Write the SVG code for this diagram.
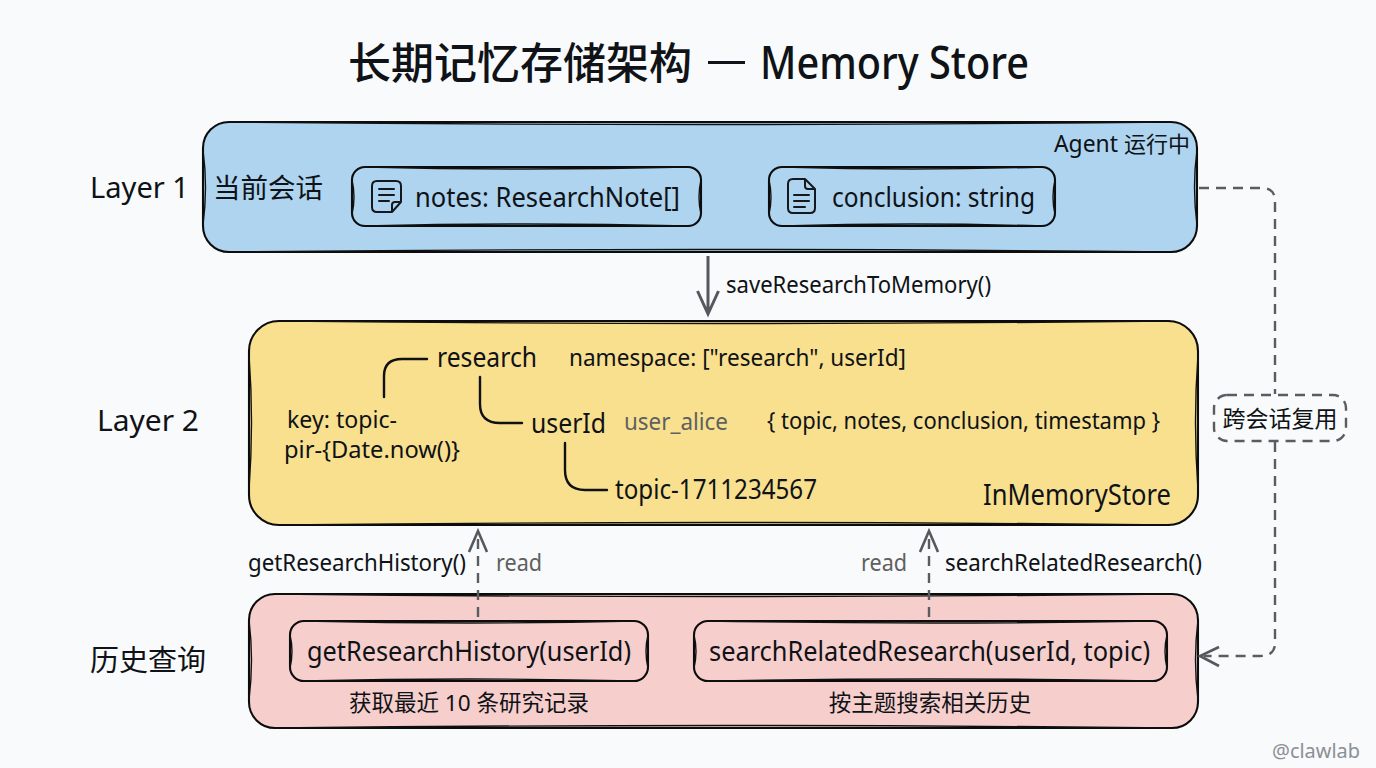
<svg xmlns="http://www.w3.org/2000/svg" width="1376" height="768" viewBox="0 0 1376 768">
<style>
text{font-family:"Noto Sans","Noto Sans CJK SC",sans-serif;fill:#0f1216}
.o{fill:none;stroke:#0c0c0c;stroke-width:2.1}
.o2{fill:none;stroke:#111;stroke-width:1.4}
.c{fill:none;stroke:#55585c;stroke-width:3}
.d{fill:none;stroke:#5a5d60;stroke-width:2.4;stroke-dasharray:10 7}
.t{fill:none;stroke:#111;stroke-width:2.4;stroke-linecap:round}
.ic{fill:none;stroke:#15181c;stroke-width:2;stroke-linejoin:round;stroke-linecap:round}
.s21{font-size:23px}.s26{font-size:28.500px}.s25{font-size:28px}.g{fill:#5f6060}
</style>
<rect width="1376" height="768" fill="#f8fafb"/>
<text y="79" font-size="43" font-weight="500"><tspan x="348">长期记忆存储架构</tspan></text>
<path d="M708 62.500H745" stroke="#0f1216" stroke-width="3" fill="none"/>
<text x="760" y="79" font-size="46" font-weight="500" textLength="269" lengthAdjust="spacingAndGlyphs">Memory Store</text>
<g id="layer1">
<rect x="203" y="122" width="994" height="130" rx="26" fill="#aed4ef"/>
<rect class="o" x="203" y="122" width="994" height="130" rx="26"/>
<path class="o2" d="M230 122Q700 127 1170 122M230 252Q700 247 1170 252M203 150Q208 187 203 225M1197 150Q1192 187 1197 225"/>
<text x="90" y="198" class="s26" textLength="99" lengthAdjust="spacingAndGlyphs">Layer 1</text>
<text x="213" y="198" font-size="27.500">当前会话</text>
<text x="1054" y="152" class="s21" textLength="64" lengthAdjust="spacingAndGlyphs">Agent</text>
<text x="1124" y="152" font-size="22">运行中</text>
</g>
<g id="notes">
<rect class="o" x="352" y="167" width="349" height="59" rx="13"/>
<path class="o2" d="M365 167Q526 171 688 167M365 226Q526 222 688 226M352 180Q356 197 352 214M701 180Q697 197 701 214"/>
<path class="ic" d="M377 181H396Q401 181 401 186V202L392 212H377Q372 212 372 207V186Q372 181 377 181ZM379 189H394M379 195H394M379 201H389M392 212V205Q392 202 395 202H401"/>
<text x="415" y="207" class="s25" textLength="265" lengthAdjust="spacingAndGlyphs">notes: ResearchNote[]</text>
</g>
<g id="conclusion">
<rect class="o" x="769" y="167" width="286" height="59" rx="13"/>
<path class="o2" d="M782 167Q912 171 1042 167M782 226Q912 222 1042 226M769 180Q773 197 769 214M1055 180Q1051 197 1055 214"/>
<path class="ic" d="M793 179H805L815 189V208Q815 213 810 213H793Q788 213 788 208V184Q788 179 793 179ZM805 179V186Q805 189 808 189H815M794 195H809M794 201H809M794 207H805"/>
<text x="832" y="207" class="s25" textLength="203" lengthAdjust="spacingAndGlyphs">conclusion: string</text>
</g>
<g id="layer2">
<rect x="249" y="321" width="949" height="204" rx="30" fill="#f8e08e"/>
<rect class="o" x="249" y="321" width="949" height="204" rx="30"/>
<path class="o2" d="M280 321Q725 326 1170 321M280 525Q725 520 1170 525M249 355Q254 422 249 490M1198 355Q1193 422 1198 490"/>
<text x="97" y="431" class="s26" textLength="102" lengthAdjust="spacingAndGlyphs">Layer 2</text>
<path class="t" d="M384 397V376Q384 359 402 359H427M480 377V404Q480 423 500 423H522M565 443V470Q565 490 585 490H607"/>
<text x="437" y="367" class="s25" textLength="100" lengthAdjust="spacingAndGlyphs">research</text>
<text x="569" y="366" class="s21" textLength="337" lengthAdjust="spacingAndGlyphs">namespace: ["research", userId]</text>
<text x="287" y="428" class="s21" textLength="110" lengthAdjust="spacingAndGlyphs">key: topic-</text>
<text x="284" y="458" class="s21" textLength="176" lengthAdjust="spacingAndGlyphs">pir-{Date.now()}</text>
<text x="531" y="433" class="s25" textLength="75" lengthAdjust="spacingAndGlyphs">userId</text>
<text x="624" y="430" class="s21 g" textLength="104" lengthAdjust="spacingAndGlyphs">user_alice</text>
<text x="767" y="429" class="s21" textLength="393" lengthAdjust="spacingAndGlyphs">{ topic, notes, conclusion, timestamp }</text>
<text x="615" y="499" class="s25" textLength="202" lengthAdjust="spacingAndGlyphs">topic-1711234567</text>
<text x="983" y="505" class="s26" textLength="188" lengthAdjust="spacingAndGlyphs">InMemoryStore</text>
</g>
<g id="history">
<rect x="249" y="594" width="949" height="134" rx="26" fill="#f6cfcd"/>
<rect class="o" x="249" y="594" width="949" height="134" rx="26"/>
<path class="o2" d="M275 594Q723 599 1172 594M275 728Q723 723 1172 728M249 620Q254 660 249 700M1198 620Q1193 660 1198 700"/>
<text x="90" y="671" font-size="29">历史查询</text>
</g>
<g id="getHistory">
<rect class="o" x="290" y="621" width="358" height="60" rx="14"/>
<path class="o2" d="M303 621Q469 625 635 621M303 681Q469 677 635 681M290 635Q294 651 290 668M648 635Q644 651 648 668"/>
<text x="307" y="661" class="s25" textLength="324" lengthAdjust="spacingAndGlyphs">getResearchHistory(userId)</text>
<text x="469" y="711" text-anchor="middle" font-size="22.500">获取最近 10 条研究记录</text>
</g>
<g id="searchRelated">
<rect class="o" x="694" y="621" width="473" height="60" rx="14"/>
<path class="o2" d="M707 621Q930 625 1154 621M707 681Q930 677 1154 681M694 635Q698 651 694 668M1167 635Q1163 651 1167 668"/>
<text x="709" y="661" class="s25" textLength="441" lengthAdjust="spacingAndGlyphs">searchRelatedResearch(userId, topic)</text>
<text x="930" y="711" text-anchor="middle" font-size="22.500">按主题搜索相关历史</text>
</g>
<g id="connectors">
<path class="c" d="M708 256V314M697.500 291L708 314L718.500 291"/>
<path class="d" d="M478 617V534"/><path class="c" d="M469 552L478 531L487 552" style="stroke-width:2.600"/>
<path class="d" d="M929 617V534"/><path class="c" d="M920 552L929 531L938 552" style="stroke-width:2.600"/>
<path class="d" d="M1199 188H1262Q1275 188 1275 201V394"/>
<path class="d" d="M1275 442V643Q1275 656 1260 656H1204"/>
<path class="c" d="M1219 647L1200 656L1219 666" style="stroke-width:2.600"/>
</g>
<g id="reuse">
<rect x="1214" y="395" width="132" height="46" rx="13" fill="#f8fafb" stroke="#5a5d60" stroke-width="2.400" stroke-dasharray="10 7"/>
<text x="1280" y="427" text-anchor="middle" font-size="23">跨会话复用</text>
</g>
<g id="labels">
<text x="726" y="293" class="s21" textLength="265" lengthAdjust="spacingAndGlyphs">saveResearchToMemory()</text>
<text x="248" y="571" class="s21" textLength="218" lengthAdjust="spacingAndGlyphs">getResearchHistory()</text>
<text x="496" y="571" class="s21 g" textLength="46" lengthAdjust="spacingAndGlyphs">read</text>
<text x="861" y="571" class="s21 g" textLength="46" lengthAdjust="spacingAndGlyphs">read</text>
<text x="945" y="571" class="s21" textLength="257" lengthAdjust="spacingAndGlyphs">searchRelatedResearch()</text>
<text x="1272" y="758" font-size="19" style="fill:#8b9096" textLength="88" lengthAdjust="spacingAndGlyphs">@clawlab</text>
</g>
</svg>
